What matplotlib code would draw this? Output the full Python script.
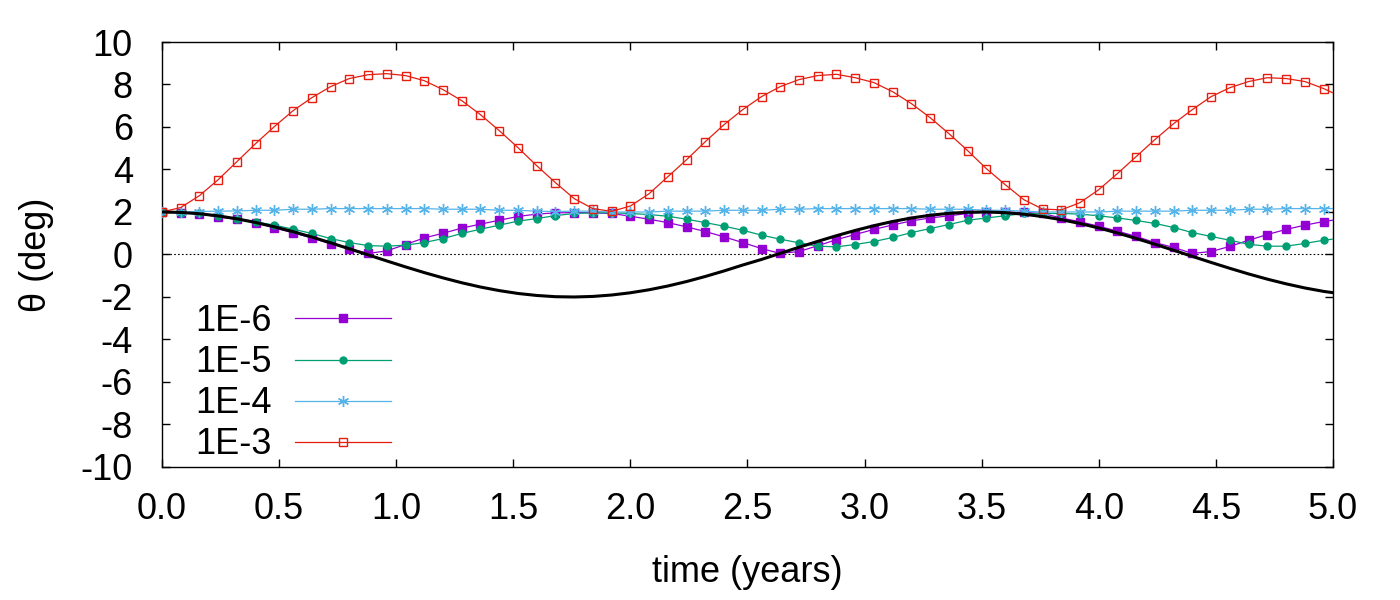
import matplotlib
matplotlib.use("Agg")
import matplotlib.pyplot as plt
from matplotlib.ticker import FormatStrFormatter

plt.rcParams['font.family'] = ['Liberation Sans', 'DejaVu Sans']
plt.rcParams['axes.unicode_minus'] = False

# time grid (years)
t = [0.00, 0.08, 0.16, 0.24, 0.32, 0.40, 0.48, 0.56, 0.64, 0.72, 0.80, 0.88,
     0.96, 1.04, 1.12, 1.20, 1.28, 1.36, 1.44, 1.52, 1.60, 1.68, 1.76, 1.84,
     1.92, 2.00, 2.08, 2.16, 2.24, 2.32, 2.40, 2.48, 2.56, 2.64, 2.72, 2.80,
     2.88, 2.96, 3.04, 3.12, 3.20, 3.28, 3.36, 3.44, 3.52, 3.60, 3.68, 3.76,
     3.84, 3.92, 4.00, 4.08, 4.16, 4.24, 4.32, 4.40, 4.48, 4.56, 4.64, 4.72,
     4.80, 4.88, 4.96, 5.04]

theta_ref = [2.000, 1.979, 1.918, 1.817, 1.679, 1.506, 1.302, 1.073, 0.821, 0.549,
             0.268, -0.018, -0.304, -0.584, -0.852, -1.101, -1.330, -1.531, -1.699,
             -1.834, -1.928, -1.986, -2.000, -1.974, -1.907, -1.802, -1.660, -1.483,
             -1.273, -1.034, -0.774, -0.495, -0.233, 0.054, 0.340, 0.618, 0.884,
             1.132, 1.356, 1.553, 1.717, 1.846, 1.937, 1.988, 1.999, 1.968, 1.896,
             1.786, 1.639, 1.458, 1.247, 1.011, 0.753, 0.480, 0.197, -0.090, -0.375,
             -0.652, -0.916, -1.161, -1.381, -1.575, -1.736, -1.859]

theta_1e6 = [2.00, 1.97, 1.91, 1.77, 1.65, 1.50, 1.25, 1.02, 0.78, 0.50, 0.28, 0.05,
             0.17, 0.47, 0.78, 1.00, 1.24, 1.43, 1.61, 1.79, 1.90, 1.96,
             1.97, 1.96, 1.93, 1.80, 1.66, 1.50, 1.30, 1.08, 0.83, 0.56, 0.28, 0.05,
             0.14, 0.41, 0.70, 0.94, 1.18, 1.39, 1.58, 1.72, 1.82,
             1.93, 2.00, 1.99, 1.98, 1.93, 1.72, 1.54, 1.33, 1.10, 0.85, 0.56, 0.33,
             0.05, 0.14, 0.38, 0.67, 0.94, 1.18, 1.38, 1.55, 1.68]

theta_1e5 = [2.00, 1.97, 1.93, 1.82, 1.69, 1.54, 1.38, 1.19, 0.99, 0.75, 0.56, 0.42,
             0.39, 0.44, 0.56, 0.75, 0.99, 1.19, 1.38, 1.57, 1.69, 1.83,
             1.93, 1.96, 1.96, 1.93, 1.88, 1.80, 1.66, 1.50, 1.33, 1.14, 0.91, 0.72,
             0.55, 0.39, 0.36, 0.47, 0.61, 0.80, 1.03, 1.22, 1.41,
             1.61, 1.72, 1.82, 1.93, 1.93, 1.93, 1.90, 1.82, 1.72, 1.60, 1.46, 1.27,
             1.03, 0.85, 0.67, 0.48, 0.39, 0.39, 0.52, 0.67, 0.78]

theta_1e4 = [2.00, 2.00, 2.02, 2.04, 2.05, 2.08, 2.08, 2.13, 2.13, 2.16, 2.16, 2.16,
             2.16, 2.16, 2.16, 2.13, 2.13, 2.13, 2.08, 2.08, 2.04, 2.02,
             2.04, 2.04, 2.00, 2.00, 2.00, 2.04, 2.04, 2.04, 2.08, 2.08, 2.08, 2.13,
             2.13, 2.16, 2.16, 2.16, 2.16, 2.16, 2.16, 2.13, 2.13,
             2.13, 2.08, 2.08, 2.04, 2.00, 2.00, 2.00, 2.00, 2.04, 2.04, 2.04, 2.04,
             2.08, 2.08, 2.08, 2.13, 2.13, 2.16, 2.16, 2.16, 2.16]

theta_1e3 = [2.00, 2.21, 2.77, 3.52, 4.37, 5.22, 6.02, 6.77, 7.38, 7.90, 8.28, 8.46,
             8.51, 8.42, 8.18, 7.76, 7.24, 6.58, 5.83, 5.03, 4.18, 3.38, 2.63, 2.16,
             2.03, 2.28, 2.86, 3.66, 4.46, 5.31, 6.11, 6.82, 7.43, 7.90, 8.23, 8.42,
             8.48, 8.32, 8.09, 7.66, 7.10, 6.44, 5.69, 4.89, 4.04, 3.29, 2.58, 2.14,
             2.10, 2.44, 3.05, 3.81, 4.61, 5.41, 6.16, 6.82, 7.43, 7.85, 8.14, 8.32,
             8.28, 8.14, 7.81, 7.40]

labels = ["1E-6", "1E-5", "1E-4", "1E-3"]
xticks = [0.0, 0.5, 1.0, 1.5, 2.0, 2.5, 3.0, 3.5, 4.0, 4.5, 5.0]
yticks = [-10, -8, -6, -4, -2, 0, 2, 4, 6, 8, 10]

FS = 26

fig = plt.figure(figsize=(14, 6), dpi=100)
ax = fig.add_axes([0.1157, 0.2217, 0.8364, 0.7083])

ax.axhline(0, color='black', lw=0.8, ls=(0, (1.5, 2.0)), zorder=1)

ax.plot(t, theta_1e6, color='#9400D3', lw=0.9, marker='s', ms=5.5,
        mec='#9400D3', mfc='#9400D3', label=labels[0], zorder=3)
ax.plot(t, theta_1e5, color='#009E73', lw=0.9, marker='o', ms=5,
        mec='#009E73', mfc='#009E73', label=labels[1], zorder=3)
ax.plot(t, theta_1e4, color='#56B4E9', lw=0.9, marker=(6, 2, 0), ms=8,
        mew=1.0, mec='#56B4E9', label=labels[2], zorder=3)
ax.plot(t, theta_1e3, color='#E51E10', lw=0.9, marker='s', ms=6,
        mew=1.0, mec='#E51E10', mfc='none', label=labels[3], zorder=3)
ax.plot(t, theta_ref, color='black', lw=2.2, zorder=4)

ax.set_xlim(0, 5)
ax.set_ylim(-10, 10)
ax.set_xticks(xticks)
ax.set_yticks(yticks)
ax.xaxis.set_major_formatter(FormatStrFormatter('%.1f'))
ax.tick_params(direction='in', length=6, width=1.0, labelsize=FS,
               top=True, right=True)
ax.tick_params(axis='x', pad=18)
ax.tick_params(axis='y', pad=21)
for s in ax.spines.values():
    s.set_linewidth(1.0)

ax.set_xlabel('time (years)', fontsize=FS, labelpad=20)
ax.set_ylabel('θ (deg)', fontsize=FS, labelpad=19)

leg = ax.legend(loc='center left', bbox_to_anchor=(0.016, 0.197), markerfirst=False,
                frameon=False, fontsize=FS, handlelength=2.65, handletextpad=0.65,
                labelspacing=0.17, borderaxespad=0.0)

fig.savefig('out.png', dpi=100)
